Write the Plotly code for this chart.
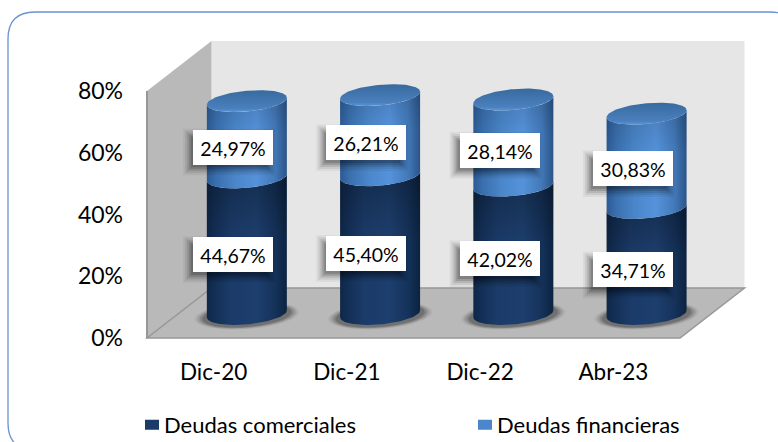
import numpy as np
import plotly.graph_objects as go

categories = ["Dic-20", "Dic-21", "Dic-22", "Abr-23"]
deudas_comerciales = [44.67, 45.40, 42.02, 34.71]
deudas_financieras = [24.97, 26.21, 28.14, 30.83]
labels_comerciales = ["44,67%", "45,40%", "42,02%", "34,71%"]
labels_financieras = ["24,97%", "26,21%", "28,14%", "30,83%"]
y_ticks = [0, 20, 40, 60, 80]
y_tick_labels = ["0%", "20%", "40%", "60%", "80%"]

W, H = 778, 442
FONT = "Lato"
# pixel frame of the front plane of the 3D box
PX_L, PX_R, PX_B, PX_T = 147.0, 680.0, 338.0, 91.0
DX_PX, DY_PX = 64.5, 50.0           # depth of box
UX = (PX_R - PX_L) / 4.0            # pixels per category
UY = (PX_B - PX_T) / 80.0           # pixels per percent
x0_px = PX_L + UX / 2
xr = [(0 - x0_px) / UX, (W - x0_px) / UX]
yr = [(PX_B - H) / UY, PX_B / UY]
DEPTH_X, DEPTH_Y = DX_PX / UX, DY_PX / UY
LEFT, RIGHT = -0.5, 3.5

# cylinder proportions (axis units)
CX = DEPTH_X * 0.515
CY = DEPTH_Y * 0.48
RX = 40.0 / UX
RY = 10.4 / UY
SK = 3.5 / UY
VS = 0.99
t = np.linspace(0, 2 * np.pi, 121)
t_front = np.linspace(np.pi, 0, 61)   # left -> right along front
t_front_rev = t_front[::-1]


def front(cx, cy, tt):
    # lower (front) half of the tilted ellipse
    return cx + RX * np.cos(tt), cy - RY * np.sin(tt) + SK * np.cos(tt)


DARK_H = [[0, "#0f2747"], [0.1, "#132f56"], [0.3, "#1b3b69"], [0.62, "#1d3f6e"], [0.85, "#15325a"], [1, "#0c2341"]]
BLUE_H = [[0, "#2c5a94"], [0.12, "#3a6fae"], [0.35, "#4a86c9"], [0.62, "#5592da"], [0.85, "#4379b9"], [1, "#2a5488"]]
TOP_V = [[0, "#5b96da"], [0.16, "#4a80bd"], [1, "#386a9f"]]

fig = go.Figure()


def fill_trace(xs, ys, **kw):
    fig.add_trace(go.Scatter(x=xs, y=ys, mode="lines", fill="toself", line=dict(width=0),
                             hoverinfo="skip", showlegend=False, **kw))


def vshade(xs, ys, stops):
    fill_trace(xs, ys, fillcolor="rgba(0,0,0,0)",
               fillgradient=dict(type="vertical", colorscale=stops))


for i in range(len(categories)):
    cx = i + CX
    base = CY
    v1 = deudas_comerciales[i] * VS + CY
    v2 = (deudas_comerciales[i] + deudas_financieras[i]) * VS + CY
    # soft contact shadow on the floor
    for k, a in [(1.30, 0.08), (1.24, 0.12), (1.18, 0.18), (1.12, 0.26)]:
        fill_trace(cx + k * RX * np.cos(t), base - 1.5 / UY + k * RY * np.sin(t) + SK * np.cos(t),
                   fillcolor=f"rgba(45,45,45,{a})")
    # lower (dark) segment
    fx, fy = front(cx, base, t_front)
    ux, uy = front(cx, v1, t_front_rev)
    sx, sy = np.r_[fx, ux], np.r_[fy, uy]
    fill_trace(sx, sy, fillcolor="#1b3b69",
               fillgradient=dict(type="horizontal", colorscale=DARK_H))
    vshade(sx, sy, [[0, "rgba(0,0,0,0)"], [0.55, "rgba(0,0,0,0)"], [1, "rgba(0,0,0,0.28)"]])
    # upper (blue) segment
    fx, fy = front(cx, v1, t_front)
    ux, uy = front(cx, v2, t_front_rev)
    sx, sy = np.r_[fx, ux], np.r_[fy, uy]
    fill_trace(sx, sy, fillcolor="#4a86c9",
               fillgradient=dict(type="horizontal", colorscale=BLUE_H))
    vshade(sx, sy, [[0, "rgba(0,0,0,0)"], [0.6, "rgba(0,0,0,0)"], [1, "rgba(0,0,0,0.14)"]])
    # top cap
    tx, ty = cx + RX * np.cos(t), v2 + RY * np.sin(t) + SK * np.cos(t)
    fill_trace(tx, ty, fillcolor="#3f74ad", fillgradient=dict(type="vertical", colorscale=TOP_V))

# legend entries: a wide dashed line draws a square key right next to the text
KEY_DASH = "0px,16px,14px,100px"
fig.add_trace(go.Scatter(x=[None], y=[None], mode="lines", name="Deudas comerciales", legend="legend",
                         line=dict(color="#1b3b69", width=14, dash=KEY_DASH), hoverinfo="skip"))
fig.add_trace(go.Scatter(x=[None], y=[None], mode="lines", name="Deudas financieras", legend="legend2",
                         line=dict(color="#4a86c9", width=14, dash=KEY_DASH), hoverinfo="skip"))

shapes = []


def px(x): return x / W
def py(y): return 1 - y / H


# rounded frame (runs past the right and bottom edges of the picture)
r = 27
fl, ft, fr, fb = 8, 12, 797, 450
frame = (f"M {px(fl + r)},{py(fb)} Q {px(fl)},{py(fb)} {px(fl)},{py(fb - r)} L {px(fl)},{py(ft + r)} "
         f"Q {px(fl)},{py(ft)} {px(fl + r)},{py(ft)} "
         f"L {px(fr - r)},{py(ft)} Q {px(fr)},{py(ft)} {px(fr)},{py(ft + r)}")
shapes.append(dict(type="path", xref="paper", yref="paper", path=frame, layer="below",
                   line=dict(color="#6a93cf", width=1.3)))

top = 80
def P(x, y): return f"{x},{y}"
side = f"M {P(LEFT, 0)} L {P(LEFT + DEPTH_X, DEPTH_Y)} L {P(LEFT + DEPTH_X, top + DEPTH_Y)} L {P(LEFT, top)} Z"
floor = f"M {P(LEFT, 0)} L {P(RIGHT, 0)} L {P(RIGHT + DEPTH_X, DEPTH_Y)} L {P(LEFT + DEPTH_X, DEPTH_Y)} Z"
back = f"M {P(LEFT + DEPTH_X, DEPTH_Y)} L {P(RIGHT + DEPTH_X, DEPTH_Y)} L {P(RIGHT + DEPTH_X, top + DEPTH_Y)} L {P(LEFT + DEPTH_X, top + DEPTH_Y)} Z"
shapes.append(dict(type="path", path=back, xref="x", yref="y", layer="below", fillcolor="#e6e6e6", line=dict(width=0)))
shapes.append(dict(type="path", path=side, xref="x", yref="y", layer="below", fillcolor="#b9b9b9", line=dict(width=0)))
shapes.append(dict(type="path", path=floor, xref="x", yref="y", layer="below", fillcolor="#b9b9b9",
                   line=dict(color="#979797", width=1.5)))
shapes.append(dict(type="line", x0=LEFT, x1=LEFT, y0=0, y1=top, xref="x", yref="y", layer="below",
                   line=dict(color="#979797", width=2)))

# label shadows + annotations
annotations = []
BW, BH, PAD = 80, 34.5, 4.5
XS, YS = 19.5, 14.5
for i in range(len(categories)):
    c, f = deudas_comerciales[i], deudas_financieras[i]
    for mid, txt in [(c / 2, labels_comerciales[i]), (c + f / 2, labels_financieras[i])]:
        for grow, a in [(6, 0.05), (4, 0.07), (2, 0.1), (0, 0.14), (-2, 0.16)]:
            shapes.append(dict(type="rect", xref="x", yref="y", xsizemode="pixel", ysizemode="pixel",
                               xanchor=i, yanchor=mid, layer="above",
                               x0=XS - BW / 2 - 4 - grow, x1=XS + BW / 2 - 4 + grow,
                               y0=YS - BH / 2 - 5 - grow, y1=YS + BH / 2 - 5 + grow,
                               fillcolor=f"rgba(0,0,0,{a})", line=dict(width=0)))
        annotations.append(dict(x=i, y=mid, xref="x", yref="y", text=txt, showarrow=False,
                                xshift=XS, yshift=YS, width=BW - 2 * PAD, height=BH - 2 * PAD,
                                borderpad=PAD, borderwidth=0,
                                bgcolor="#ffffff", font=dict(family=FONT, size=19.5, color="#000000"),
                                align="center", valign="bottom"))

legend_common = dict(orientation="h", xanchor="left", yanchor="middle", y=1 - 425 / H, indentation=-8,
                     font=dict(family=FONT, size=22, color="#000000"), bgcolor="rgba(0,0,0,0)",
                     itemclick=False, itemdoubleclick=False)

fig.update_layout(
    width=W, height=H, autosize=False, margin=dict(l=0, r=0, t=0, b=0, autoexpand=False),
    paper_bgcolor="#ffffff", plot_bgcolor="rgba(0,0,0,0)", shapes=shapes, annotations=annotations,
    hovermode=False,
    font=dict(family=FONT, color="#000000"),
    xaxis=dict(range=xr, domain=[0, 1], anchor="free", position=(H - PX_B) / H, tickmode="array",
               tickvals=list(range(len(categories))), ticktext=categories, showgrid=False, zeroline=False,
               showline=False, ticks="", ticklabelstandoff=18, tickfont=dict(family=FONT, size=22.5, color="#000000")),
    yaxis=dict(range=yr, domain=[0, 1], anchor="free", position=PX_L / W, tickmode="array",
               tickvals=y_ticks, ticktext=y_tick_labels, showgrid=False, zeroline=False,
               showline=False, ticks="", ticklabelstandoff=24,
               tickfont=dict(family=FONT, size=23, color="#000000")),
    legend=dict(x=132 / W, **legend_common),
    legend2=dict(x=465 / W, **legend_common),
)

fig.write_html("out.html", post_script="document.body.style.margin='0';document.body.style.overflow='hidden';",
               config=dict(displayModeBar=False))
